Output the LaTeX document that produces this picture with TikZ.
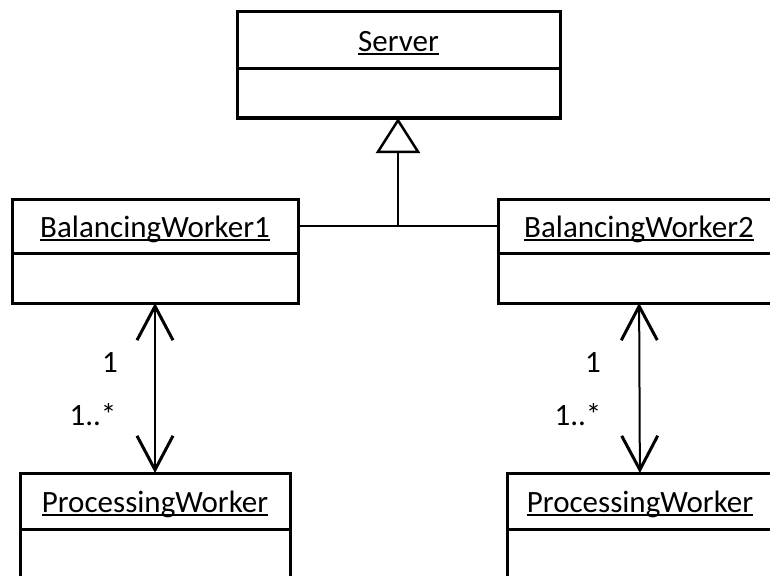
\documentclass[tikz,border=0pt]{standalone}
\usepackage{fontspec}
\setmainfont{Carlito}
\usetikzlibrary{positioning, arrows.meta}

\newsavebox{\namebox}
\newcommand{\clsname}[1]{\sbox{\namebox}{#1}\rlap{\rule[-3.5pt]{\wd\namebox}{1.6pt}}\usebox{\namebox}}

\begin{document}
\begin{tikzpicture}[x=1pt, y=-1pt,
    classname/.style={draw, line width=3pt, inner sep=0pt, outer sep=0pt, minimum height=56pt, text height=24pt, text depth=2pt, font=\fontsize{31}{37}\selectfont},
    classbody/.style={draw, line width=3pt, inner sep=0pt, outer sep=0pt, minimum height=50pt},
    link/.style={line width=2pt},
    inherit/.style={link, -{Triangle[open, length=35pt, width=44pt, line width=2.5pt]}},
    assoc/.style={link, {Straight Barb[length=34pt, width=36pt, line width=3pt]}-{Straight Barb[length=34pt, width=36pt, line width=3pt]}},
    mult/.style={font=\fontsize{31}{37}\selectfont}]
    \useasboundingbox (0,0) rectangle (770,575);
    \clip (0,0) rectangle (770,575);
        % classes
        \node[classname, minimum width=323pt, minimum height=57pt, anchor=north west] (server) at (237,12) {\clsname{Server}};
        \node[classbody, minimum width=323pt, minimum height=49pt, below=0pt of server] (serverbody) {};
        \node[classname, minimum width=286pt, minimum height=54pt, anchor=north west] (bw1) at (12,199) {\clsname{BalancingWorker1}};
        \node[classbody, minimum width=286pt, below=0pt of bw1] (bw1body) {};
        \node[classname, minimum width=282pt, minimum height=54pt, anchor=north west] (bw2) at (498,199) {\clsname{BalancingWorker2}};
        \node[classbody, minimum width=282pt, below=0pt of bw2] (bw2body) {};
        \node[classname, minimum width=270pt, anchor=north west] (pw1) at (20,473) {\clsname{ProcessingWorker}};
        \node[classbody, minimum width=270pt, below=0pt of pw1] (pw1body) {};
        \node[classname, minimum width=266pt, anchor=north west] (pw2) at (507,473) {\clsname{ProcessingWorker}};
        \node[classbody, minimum width=266pt, below=0pt of pw2] (pw2body) {};
        % inheritance
        \draw[link] (bw1) -- coordinate[midway] (junc) (bw2);
        \draw[inherit] (junc) -- (junc |- serverbody.south);
        % associations
        \draw[assoc] (bw1body) -- (pw1);
        \draw[assoc] (bw2body) -- (pw2);
        \node[mult] (m1a) at (110,363) {1};
        \node[mult] (m1b) at (93,415) {1..*};
        \node[mult] (m2a) at (593,363) {1};
        \node[mult] (m2b) at (578,415) {1..*};
    \end{tikzpicture}
\end{document}
